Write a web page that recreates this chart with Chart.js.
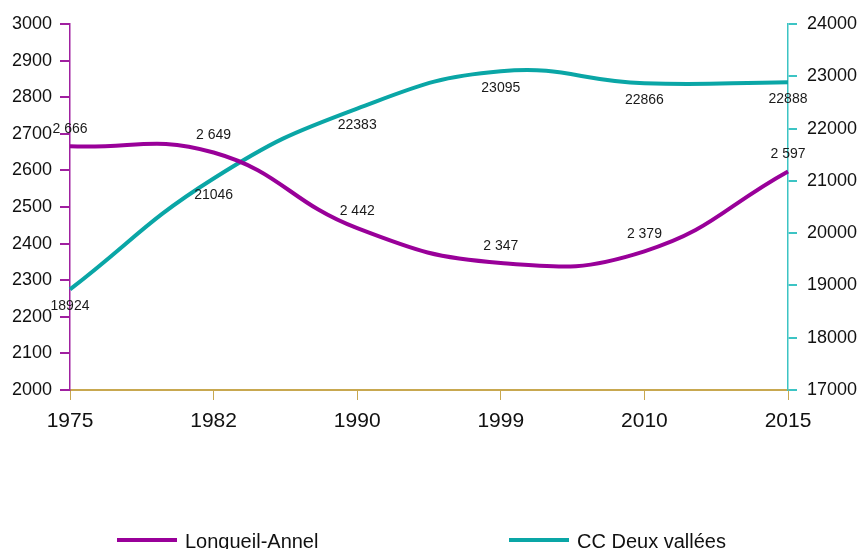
<!DOCTYPE html>
<html lang="fr">
<head>
<meta charset="UTF-8">
<title>Population Longueil-Annel / CC Deux vallées</title>
<script src="https://cdn.jsdelivr.net/npm/chart.js"></script>
<style>
    html, body { margin: 0; padding: 0; background: #fff; }
    #chart { display: block; }
</style>
</head>
<body>
<canvas id="chart" width="860" height="549"></canvas>
<script>
// Data
const years = ['1975', '1982', '1990', '1999', '2010', '2015'];
const communeValues = [2666, 2649, 2442, 2347, 2379, 2597];
const ccValues = [18924, 21046, 22383, 23095, 22866, 22888];
const leftTicks = [2000, 2100, 2200, 2300, 2400, 2500, 2600, 2700, 2800, 2900, 3000];
const rightTicks = [17000, 18000, 19000, 20000, 21000, 22000, 23000, 24000];
const seriesNames = ['Longueil-Annel', 'CC Deux vallées'];

const purple = '#990099';
const teal = '#0aa6a6';
const font = '"Liberation Sans", Arial, sans-serif';

// "2 666" style for the commune
function spaced(v) {
    return String(v).replace(/\B(?=(\d{3})+(?!\d))/g, ' ');
}

// value labels: commune above, CC below
const valueLabels = {
    id: 'valueLabels',
    afterDatasetsDraw(chart) {
        const ctx = chart.ctx;
        ctx.save();
        ctx.font = '14px ' + font;
        ctx.fillStyle = '#1a1a1a';
        ctx.textAlign = 'center';
        ctx.textBaseline = 'middle';
        chart.getDatasetMeta(0).data.forEach((pt, i) => {
            ctx.fillText(spaced(communeValues[i]), pt.x, pt.y - 17);
        });
        chart.getDatasetMeta(1).data.forEach((pt, i) => {
            ctx.fillText(String(ccValues[i]), pt.x, pt.y + 17);
        });
        ctx.restore();
    }
};

// legend at the bottom, partly cut like the original
const bottomLegend = {
    id: 'bottomLegend',
    afterDraw(chart) {
        const ctx = chart.ctx;
        const items = [
            { x: 117, color: purple, text: seriesNames[0] },
            { x: 509, color: teal, text: seriesNames[1] }
        ];
        ctx.save();
        ctx.font = '20px ' + font;
        ctx.textBaseline = 'middle';
        items.forEach(it => {
            ctx.fillStyle = it.color;
            ctx.fillRect(it.x, 538, 60, 4);
            ctx.fillStyle = '#111';
            ctx.fillText(it.text, it.x + 68, 542);
        });
        ctx.restore();
    }
};

new Chart(document.getElementById('chart'), {
    type: 'line',
    data: {
        labels: years,
        datasets: [
            {
                label: seriesNames[0],
                data: communeValues,
                yAxisID: 'y',
                borderColor: purple,
                borderWidth: 4,
                pointRadius: 0,
                tension: 0.45,
                fill: false
            },
            {
                label: seriesNames[1],
                data: ccValues,
                yAxisID: 'y2',
                borderColor: teal,
                borderWidth: 4,
                pointRadius: 0,
                tension: 0.45,
                fill: false
            }
        ]
    },
    options: {
        responsive: false,
        animation: false,
        layout: { padding: { top: 24, left: 0, right: 0, bottom: 0 } },
        plugins: {
            legend: { display: false },
            tooltip: { enabled: false }
        },
        scales: {
            x: {
                offset: false,
                grid: {
                    drawOnChartArea: false,
                    drawTicks: true,
                    tickLength: 10,
                    color: '#c8a850',
                    offset: false
                },
                border: { color: '#c8a850', width: 2 },
                ticks: {
                    color: '#111',
                    padding: 9,
                    font: { family: font, size: 21 },
                    maxRotation: 0
                },
                afterFit(scale) { scale.height = 159; }
            },
            y: {
                position: 'left',
                min: 2000,
                max: 3000,
                afterBuildTicks(axis) { axis.ticks = leftTicks.map(v => ({ value: v })); },
                grid: {
                    drawOnChartArea: false,
                    tickLength: 10,
                    color: '#a020a0',
                    lineWidth: 2
                },
                border: { color: '#a020a0', width: 1.5 },
                ticks: {
                    color: '#111',
                    padding: 8,
                    font: { family: font, size: 18 },
                    callback: v => String(v)
                },
                afterFit(scale) { scale.width = 70; }
            },
            y2: {
                position: 'right',
                min: 17000,
                max: 24000,
                afterBuildTicks(axis) { axis.ticks = rightTicks.map(v => ({ value: v })); },
                grid: {
                    drawOnChartArea: false,
                    tickLength: 9,
                    color: '#3cc4c4',
                    lineWidth: 2
                },
                border: { color: '#3cc4c4', width: 1.5 },
                ticks: {
                    color: '#111',
                    padding: 10,
                    font: { family: font, size: 18 },
                    callback: v => String(v)
                },
                afterFit(scale) { scale.width = 72; }
            }
        }
    },
    plugins: [valueLabels, bottomLegend]
});
</script>
</body>
</html>
